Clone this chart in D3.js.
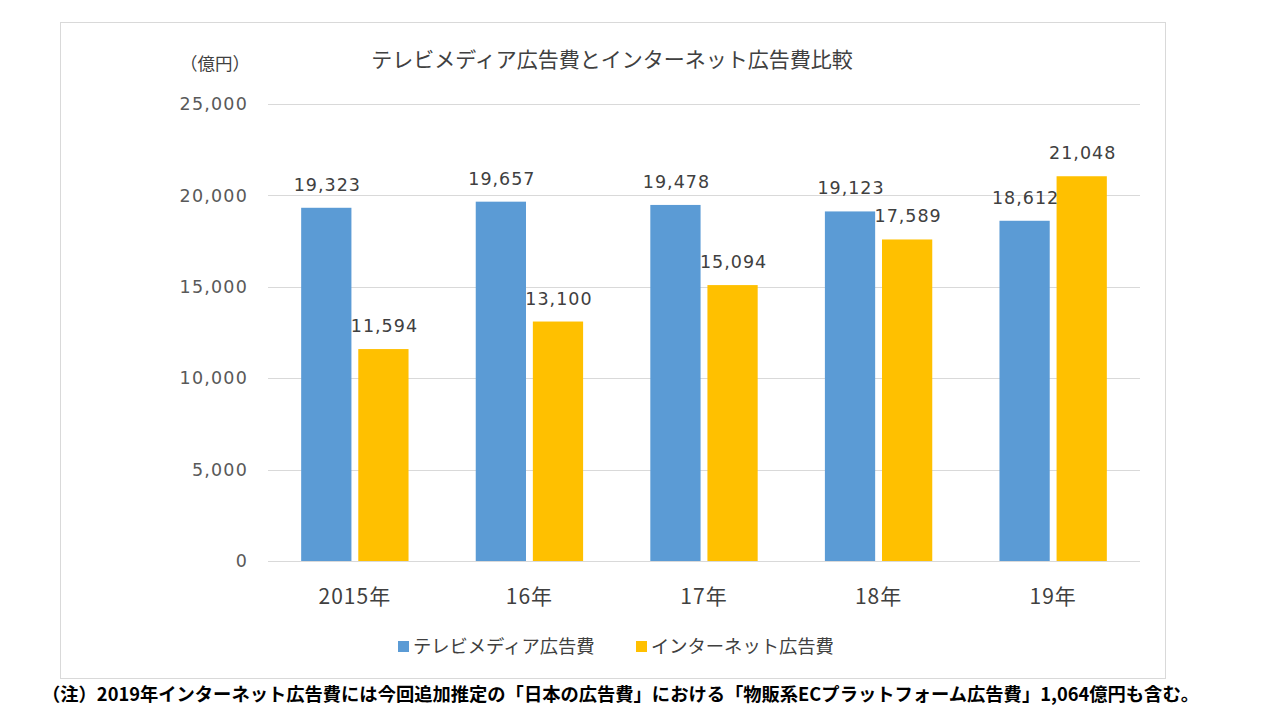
<!DOCTYPE html>
<html><head><meta charset="utf-8">
<script src="https://cdn.jsdelivr.net/npm/d3@7"></script>
<style>body{margin:0;background:#fff;}svg{display:block;}</style>
</head><body>
<script>
const categories = ["2015年","16年","17年","18年","19年"];
const seriesNames = ["テレビメディア広告費","インターネット広告費"];
const tvValues = [19323,19657,19478,19123,18612];
const netValues = [11594,13100,15094,17589,21048];
const yTicks = [0,5000,10000,15000,20000,25000];
const colors = ["#5B9BD5","#FFC000"];
const title = "テレビメディア広告費とインターネット広告費比較";
const unit = "（億円）";
const note = "（注）2019年インターネット広告費には今回追加推定の「日本の広告費」における「物販系ECプラットフォーム広告費」1,064億円も含む。";

const W=1280,H=720;
const svg=d3.select("body").append("svg").attr("width",W).attr("height",H);
const jp='"Noto Sans CJK JP","Noto Sans",sans-serif';
const num='"DejaVu Sans","Noto Sans CJK JP",sans-serif';

svg.append("rect").attr("x",60.5).attr("y",22.5).attr("width",1105).attr("height",656)
  .attr("fill","#fff").attr("stroke","#d9d9d9");

const x0=d3.scaleBand().domain(categories).range([268,1140]).paddingInner(0.385).paddingOuter(0.19);
const x1=d3.scaleBand().domain([0,1]).range([0,x0.bandwidth()]).paddingInner(0.12);
const y=d3.scaleLinear().domain([0,25000]).range([561,104]);

const grid=svg.append("g");
grid.selectAll("line").data(yTicks).join("line")
  .attr("x1",268).attr("x2",1140).attr("y1",d=>Math.round(y(d))+0.5).attr("y2",d=>Math.round(y(d))+0.5)
  .attr("stroke","#d9d9d9").attr("stroke-width",1);

const yAxis=d3.axisLeft(y).tickValues(yTicks).tickFormat(d3.format(",")).tickSize(0).tickPadding(0);
const ga=svg.append("g").attr("transform","translate(248,0)").call(yAxis);
ga.select(".domain").remove();
ga.selectAll("text").attr("font-family",num).attr("font-size",17.5).attr("letter-spacing",1.2).attr("fill","#595959");

const xAxis=d3.axisBottom(x0).tickSize(0).tickPadding(0);
const gx=svg.append("g").attr("transform","translate(0,589)").call(xAxis);
gx.select(".domain").remove();
gx.selectAll("text").attr("font-family",jp).attr("font-size",21).attr("letter-spacing",1).attr("fill","#404040").attr("dy","0.71em");

const data=categories.map((c,i)=>({c,vals:[tvValues[i],netValues[i]]}));
const groups=svg.append("g").selectAll("g").data(data).join("g").attr("transform",d=>`translate(${x0(d.c)},0)`);
groups.selectAll("rect").data(d=>d.vals.map((v,k)=>({v,k}))).join("rect")
  .attr("x",d=>x1(d.k)).attr("width",x1.bandwidth())
  .attr("y",d=>y(d.v)).attr("height",d=>y(0)-y(d.v)).attr("fill",d=>colors[d.k]);
groups.selectAll("text").data(d=>d.vals.map((v,k)=>({v,k}))).join("text")
  .attr("x",d=>x1(d.k)+x1.bandwidth()/2+1).attr("y",d=>y(d.v)-17)
  .attr("text-anchor","middle").attr("font-family",num).attr("font-size",17.5).attr("letter-spacing",1)
  .attr("fill","#404040")
  .text(d=>d3.format(",")(d.v));

svg.append("text").attr("x",612).attr("y",67).attr("text-anchor","middle")
  .attr("font-family",jp).attr("font-size",21).attr("fill","#404040").text(title);
svg.append("text").attr("x",215).attr("y",70).attr("text-anchor","middle")
  .attr("font-family",jp).attr("font-size",17.5).attr("fill","#404040").text(unit);

const legX=[398,636];
const leg=svg.append("g").selectAll("g").data(seriesNames).join("g").attr("transform",(d,i)=>`translate(${legX[i]},641)`);
leg.append("rect").attr("width",11).attr("height",11).attr("fill",(d,i)=>colors[i]);
leg.append("text").attr("x",15).attr("y",12).attr("font-family",jp).attr("font-size",18.3).attr("fill","#404040").text(d=>d);

svg.append("text").attr("x",42).attr("y",701).attr("font-family",jp).attr("font-size",18.3).attr("font-weight","bold")
  .attr("fill","#000").text(note);
</script>
</body></html>
